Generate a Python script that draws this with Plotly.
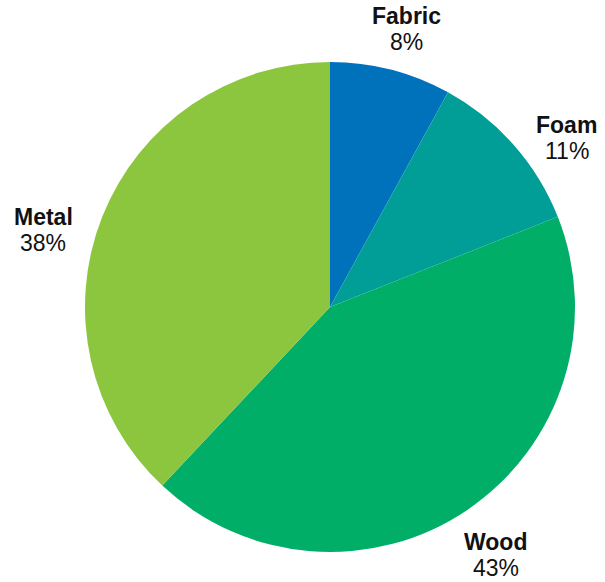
import math
import plotly.graph_objects as go

labels = ["Fabric", "Foam", "Wood", "Metal"]
values = [8, 11, 43, 38]
colors = ["#0072BC", "#009E96", "#00AE68", "#8CC63F"]

W, H = 605, 582
cx, cy, r = 330, 307, 245
# label placement: angular offset from slice mid-angle (deg) and distance from centre (px)
label_dtheta = [1.0, 5.8, 0.5, -6.6]
label_dist = [288, 291, 298.5, 297]
line_gap = 13  # px from block centre to each line centre
FONT = "Liberation Sans, Arial, Helvetica, sans-serif"

fig = go.Figure(go.Pie(
    labels=labels,
    values=values,
    sort=False,
    direction="clockwise",
    rotation=0,
    marker=dict(colors=colors, line=dict(width=0)),
    textinfo="none",
    showlegend=False,
    hoverinfo="label+percent",
    domain=dict(x=[(cx - r) / W, (cx + r) / W], y=[(H - cy - r) / H, (H - cy + r) / H]),
))

total = sum(values)
cum = 0
for lab, v, dth, dist in zip(labels, values, label_dtheta, label_dist):
    mid = (cum + v / 2) / total * 2 * math.pi + math.radians(dth)
    cum += v
    px = cx + dist * math.sin(mid)
    py = cy - dist * math.cos(mid)
    pct = round(v / total * 100)
    for txt, dy in ((f"<b>{lab}</b>", -line_gap), (f"{pct}%", line_gap)):
        fig.add_annotation(
            x=px / W, y=1 - (py + dy) / H, xref="paper", yref="paper",
            text=txt, showarrow=False, xanchor="center", yanchor="middle",
            height=22, valign="middle", borderpad=0,
            font=dict(family=FONT, size=23, color="#111111"),
        )

fig.update_layout(
    width=W, height=H,
    margin=dict(l=0, r=0, t=0, b=0),
    paper_bgcolor="white",
    plot_bgcolor="white",
)
fig.write_html("out.html", config={"displayModeBar": False},
               post_script="document.body.style.margin='0';")
